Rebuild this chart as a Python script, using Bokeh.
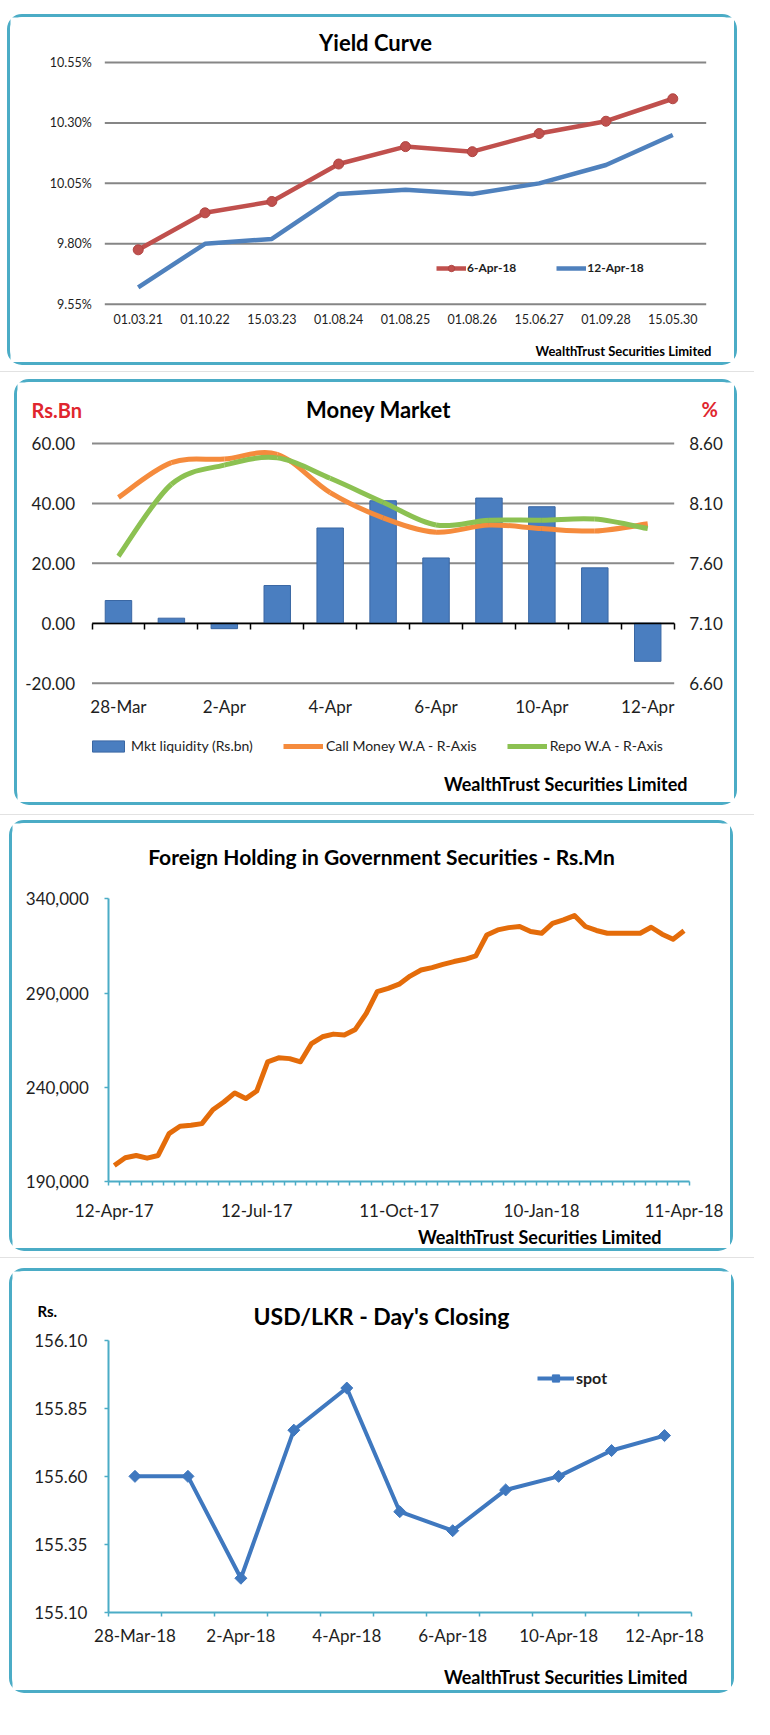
import pandas as pd
from bokeh.plotting import figure
from bokeh.models import (Range1d, LinearAxis, FixedTicker, PrintfTickFormatter,
                          NumeralTickFormatter, Label, Legend, LegendItem, Spacer)
from bokeh.layouts import column, row
from bokeh.embed import file_html
from bokeh.resources import INLINE

# ------------------------------------------------------------------ data
# Yield curve
yc_tenors = ["01.03.21", "01.10.22", "15.03.23", "01.08.24", "01.08.25",
             "01.08.26", "15.06.27", "01.09.28", "15.05.30"]
yc_6apr = [9.775, 9.928, 9.975, 10.13, 10.202, 10.181, 10.256, 10.307, 10.40]
yc_12apr = [9.62, 9.80, 9.82, 10.006, 10.024, 10.006, 10.05, 10.126, 10.25]
yc_ticks = [9.55, 9.80, 10.05, 10.30, 10.55]

# Money market
mm_dates = ["28-Mar", "29-Mar", "2-Apr", "3-Apr", "4-Apr", "5-Apr", "6-Apr",
            "9-Apr", "10-Apr", "11-Apr", "12-Apr"]
mm_liquidity = [7.6, 1.7, -1.8, 12.6, 31.8, 40.9, 21.8, 41.8, 38.9, 18.5, -12.7]
mm_call = [8.15, 8.44, 8.47, 8.51, 8.19, 7.98, 7.86, 7.92, 7.89, 7.87, 7.93]
mm_repo = [7.66, 8.26, 8.42, 8.48, 8.31, 8.11, 7.92, 7.96, 7.96, 7.97, 7.89]
mm_label_idx = [0, 2, 4, 6, 8, 10]
mm_left_ticks = [-20, 0, 20, 40, 60]
mm_right_ticks = [6.60, 7.10, 7.60, 8.10, 8.60]

# Foreign holding (weekly, Rs.Mn)
fh_dates = [d.strftime("%d-%b-%y") for d in
            pd.date_range("2017-04-12", "2018-04-11", freq="7D")]
fh_values = [198500, 202600, 203800, 202400, 203800, 215400, 219300, 219800,
             220700, 228100, 232200, 237000, 234000, 238000, 253500, 255600,
             255200, 253500, 263200, 266800, 268200, 267700, 270700, 279200,
             290700, 292500, 294700, 299000, 302200, 303500, 305200, 306700,
             307900, 309700, 320800, 323500, 324700, 325300, 322600, 321700,
             327000, 328800, 331100, 325300, 323200, 321700, 321700, 321700,
             321700, 324900, 321200, 318500, 323000]
fh_label_idx = [0, 13, 26, 39, 52]
fh_ticks = [190000, 240000, 290000, 340000]

# USD/LKR
fx_dates = ["28-Mar-18", "29-Mar-18", "2-Apr-18", "3-Apr-18", "4-Apr-18",
            "5-Apr-18", "6-Apr-18", "9-Apr-18", "10-Apr-18", "11-Apr-18",
            "12-Apr-18"]
fx_spot = [155.60, 155.60, 155.225, 155.77, 155.925, 155.47, 155.40, 155.55,
           155.60, 155.695, 155.75]
fx_label_idx = [0, 2, 4, 6, 8, 10]
fx_ticks = [155.10, 155.35, 155.60, 155.85, 156.10]

# ------------------------------------------------------------------ style
FONT = "Lato"
TEAL = "#4BACC6"
TXT = "#1e1e1e"
BORDER = {"border": "3px solid #4BACC6", "border-radius": "15px"}


class Geo:
    """Maps a panel's page-pixel layout onto its data ranges.
    canvas = (left, top, width, height) of the figure canvas on the page,
    region = (L, R, T, B) page pixels of the data area."""

    def __init__(self, canvas, region, xlim, ylim):
        self.cL, self.cT, self.cW, self.cH = canvas
        self.L, self.R, self.T, self.B = region
        self.xlim, self.ylim = xlim, ylim
        self.kx = (xlim[1] - xlim[0]) / (self.R - self.L)
        self.ky = (ylim[1] - ylim[0]) / (self.B - self.T)

    def xrange(self):
        return Range1d(self.xlim[0] - (self.L - self.cL) * self.kx,
                       self.xlim[1] + (self.cL + self.cW - self.R) * self.kx)

    def yrange(self, lim=None):
        lim = lim or self.ylim
        k = (lim[1] - lim[0]) / (self.B - self.T)
        return Range1d(lim[0] - (self.cT + self.cH - self.B) * k,
                       lim[1] + (self.T - self.cT) * k)

    def xy(self, px, py):
        return (self.xlim[0] + (px - self.L) * self.kx,
                self.ylim[0] + (self.B - py) * self.ky)

    def loc(self, px, py):
        return (px - self.cL, self.cT + self.cH - py)


def base_fig(g):
    p = figure(width=g.cW, height=g.cH, x_range=g.xrange(), y_range=g.yrange(),
               output_backend="svg", toolbar_location=None, tools="",
               min_border=0, min_border_left=0, min_border_right=0,
               min_border_top=0, min_border_bottom=0)
    p.outline_line_color = None
    p.background_fill_color = "white"
    p.border_fill_color = "white"
    p.grid.visible = False
    p.styles = BORDER
    return p


def add_text(p, g, px, py, text, size, align="center", bold=True,
             color="black"):
    x, y = g.xy(px, py)
    p.add_layout(Label(x=x, y=y, text=text, text_align=align,
                       text_baseline="middle", text_font=FONT,
                       text_font_style="bold" if bold else "normal",
                       text_font_size=size, text_color=color))


def style_axis(ax, size, line=None):
    ax.major_label_text_font = FONT
    ax.major_label_text_font_size = size
    ax.major_label_text_color = TXT
    ax.axis_line_color = line
    ax.axis_line_width = 2
    ax.major_tick_line_color = None
    ax.minor_tick_line_color = None
    ax.major_tick_out = 0
    ax.major_tick_in = 0
    ax.minor_tick_in = 0


def hgrid(p, xlim, ticks, color, width, **kw):
    p.segment(x0=[xlim[0]] * len(ticks), x1=[xlim[1]] * len(ticks),
              y0=ticks, y1=ticks, line_color=color, line_width=width, **kw)


def smooth(xs, ys):
    n = len(xs)
    out = dict(x0=[], y0=[], x1=[], y1=[], cx0=[], cy0=[], cx1=[], cy1=[])
    for i in range(n - 1):
        xm, ym = (xs[i - 1], ys[i - 1]) if i > 0 else (xs[i], ys[i])
        xp, yp = (xs[i + 2], ys[i + 2]) if i + 2 < n else (xs[i + 1], ys[i + 1])
        out["x0"].append(xs[i]); out["y0"].append(ys[i])
        out["x1"].append(xs[i + 1]); out["y1"].append(ys[i + 1])
        out["cx0"].append(xs[i] + (xs[i + 1] - xm) / 6)
        out["cy0"].append(ys[i] + (ys[i + 1] - ym) / 6)
        out["cx1"].append(xs[i + 1] - (xp - xs[i]) / 6)
        out["cy1"].append(ys[i + 1] - (yp - ys[i]) / 6)
    return out


# ================================================================ panel 1
n1 = len(yc_tenors)
x1 = list(range(n1))
xl1 = (-0.5, n1 - 0.5)
g1 = Geo((18, 25, 730, 351), (112.3, 713.7, 70, 311.7), xl1,
         (yc_ticks[0], yc_ticks[-1]))
p1 = base_fig(g1)
hgrid(p1, xl1, yc_ticks, "#868686", 2)
ya = p1.yaxis[0]
ya.fixed_location = xl1[0]
ya.bounds = (yc_ticks[0], yc_ticks[-1])
ya.ticker = FixedTicker(ticks=yc_ticks)
ya.formatter = PrintfTickFormatter(format="%.2f%%")
style_axis(ya, "12.5px")
ya.major_label_standoff = 13
xa = p1.xaxis[0]
xa.fixed_location = yc_ticks[0]
xa.bounds = xl1
xa.ticker = FixedTicker(ticks=x1)
xa.major_label_overrides = {i: t for i, t in enumerate(yc_tenors)}
style_axis(xa, "12.5px")
xa.major_label_standoff = 10

r_b = p1.line(x1, yc_12apr, line_color="#4F81BD", line_width=4.5)
r_r = p1.line(x1, yc_6apr, line_color="#C0504D", line_width=4.5)
r_rm = p1.scatter(x1, yc_6apr, marker="circle", size=10,
                  fill_color="#C0504D", line_color="#B04542")
p1.add_layout(Legend(
    items=[LegendItem(label="6-Apr-18", renderers=[r_r, r_rm]),
           LegendItem(label="12-Apr-18", renderers=[r_b])],
    location=g1.loc(444, 283.5), orientation="horizontal",
    border_line_color=None, background_fill_alpha=0, padding=0, margin=0,
    spacing=40, glyph_width=30, glyph_height=16, label_standoff=1,
    label_text_font=FONT, label_text_font_style="bold",
    label_text_font_size="12px", label_text_color=TXT))
add_text(p1, g1, 383, 50, "Yield Curve", "22px")
add_text(p1, g1, 719, 358, "WealthTrust Securities Limited", "13px",
         align="right")

# ================================================================ panel 2
n2 = len(mm_dates)
x2 = list(range(n2))
xl2 = (-0.5, n2 - 0.5)
g2 = Geo((25, 396, 723, 426), (99.5, 681.7, 457, 696.7), xl2,
         (mm_left_ticks[0], mm_left_ticks[-1]))
p2 = base_fig(g2)
p2.extra_y_ranges = {"right": g2.yrange((mm_right_ticks[0], mm_right_ticks[-1]))}
hgrid(p2, xl2, mm_left_ticks, "#8a8a8a", 2)
ya = p2.yaxis[0]
ya.fixed_location = xl2[0]
ya.bounds = (mm_left_ticks[0], mm_left_ticks[-1])
ya.ticker = FixedTicker(ticks=mm_left_ticks)
ya.formatter = PrintfTickFormatter(format="%.2f")
style_axis(ya, "17px")
ya.major_label_standoff = 17
rax = LinearAxis(y_range_name="right", fixed_location=xl2[1],
                 bounds=(mm_right_ticks[0], mm_right_ticks[-1]),
                 ticker=FixedTicker(ticks=mm_right_ticks),
                 formatter=PrintfTickFormatter(format="%.2f"))
style_axis(rax, "17px")
rax.major_label_standoff = 15
p2.add_layout(rax, "right")
xa = p2.xaxis[0]
xa.fixed_location = mm_left_ticks[0]
xa.bounds = xl2
xa.ticker = FixedTicker(ticks=mm_label_idx)
xa.major_label_overrides = {i: mm_dates[i] for i in mm_label_idx}
style_axis(xa, "17px")
xa.major_label_standoff = 13

r_bar = p2.vbar(x=x2, top=mm_liquidity, bottom=0, width=0.5,
                fill_color="#4A7EC0", line_color="#3A67A3", line_width=1)
r_call = p2.bezier(line_color="#F58B3D", line_width=5, y_range_name="right",
                   **smooth(x2, mm_call))
r_repo = p2.bezier(line_color="#8CC152", line_width=5, y_range_name="right",
                   **smooth(x2, mm_repo))
zax = LinearAxis(fixed_location=0, bounds=xl2,
                 ticker=FixedTicker(ticks=[i - 0.5 for i in range(n2 + 1)]),
                 axis_line_color="black", axis_line_width=1.5,
                 major_tick_line_color="black", major_tick_line_width=1.5,
                 major_tick_out=6, major_tick_in=0,
                 minor_tick_line_color=None, major_label_text_color=None)
p2.add_layout(zax, "below")
p2.add_layout(Legend(
    items=[LegendItem(label="Mkt liquidity (Rs.bn)", renderers=[r_bar]),
           LegendItem(label="Call Money W.A - R-Axis", renderers=[r_call]),
           LegendItem(label="Repo W.A - R-Axis", renderers=[r_repo])],
    location=g2.loc(96, 768), orientation="horizontal",
    border_line_color=None, background_fill_alpha=0, padding=0, margin=0,
    spacing=30, glyph_width=40, glyph_height=14, label_standoff=3,
    label_text_font=FONT, label_text_font_size="14px", label_text_color=TXT))
add_text(p2, g2, 39, 423, "Rs.Bn", "20px", align="left", color="#E0262E")
add_text(p2, g2, 709, 422, "%", "20px", align="left", color="#E0262E")
add_text(p2, g2, 386, 423, "Money Market", "22px")
add_text(p2, g2, 695, 797, "WealthTrust Securities Limited", "18px",
         align="right")

# ================================================================ panel 3
n3 = len(fh_values)
x3 = list(range(n3))
xl3 = (-0.5, n3 - 0.5)
g3 = Geo((20, 843, 724, 431), (116.3, 697, 918.3, 1201), xl3,
         (fh_ticks[0], fh_ticks[-1]))
p3 = base_fig(g3)
ya = p3.yaxis[0]
ya.fixed_location = xl3[0]
ya.bounds = (fh_ticks[0], fh_ticks[-1])
ya.ticker = FixedTicker(ticks=fh_ticks)
ya.formatter = NumeralTickFormatter(format="0,0")
style_axis(ya, "17px", TEAL)
ya.major_tick_line_color = TEAL
ya.major_tick_line_width = 1.5
ya.major_tick_out = 4
ya.major_label_standoff = 16
xa = p3.xaxis[0]
xa.fixed_location = fh_ticks[0]
xa.bounds = xl3
xa.ticker = FixedTicker(ticks=fh_label_idx,
                        minor_ticks=[i - 0.5 for i in range(n3 + 1)])
xa.major_label_overrides = {i: fh_dates[i] for i in fh_label_idx}
style_axis(xa, "17px", TEAL)
xa.minor_tick_line_color = TEAL
xa.minor_tick_line_width = 1.5
xa.minor_tick_out = 4
xa.major_label_standoff = 14
p3.line(x3, fh_values, line_color="#E46C0A", line_width=5, line_join="round")
add_text(p3, g3, 389, 876,
         "Foreign Holding in Government Securities - Rs.Mn", "21px")
add_text(p3, g3, 669, 1256, "WealthTrust Securities Limited", "18px",
         align="right")

# ================================================================ panel 4
n4 = len(fx_spot)
x4 = list(range(n4))
xl4 = (-0.5, n4 - 0.5)
g4 = Geo((20, 1297, 725, 425), (116, 698.5, 1366, 1637.7), xl4,
         (fx_ticks[0], fx_ticks[-1]))
p4 = base_fig(g4)
ya = p4.yaxis[0]
ya.fixed_location = xl4[0]
ya.bounds = (fx_ticks[0], fx_ticks[-1])
ya.ticker = FixedTicker(ticks=fx_ticks)
ya.formatter = PrintfTickFormatter(format="%.2f")
style_axis(ya, "17px", TEAL)
ya.major_tick_line_color = TEAL
ya.major_tick_line_width = 1.5
ya.major_tick_out = 4
ya.major_label_standoff = 17
xa = p4.xaxis[0]
xa.fixed_location = fx_ticks[0]
xa.bounds = xl4
xa.ticker = FixedTicker(ticks=fx_label_idx,
                        minor_ticks=[i - 0.5 for i in range(n4 + 1)])
xa.major_label_overrides = {i: fx_dates[i] for i in fx_label_idx}
style_axis(xa, "17px", TEAL)
xa.minor_tick_line_color = TEAL
xa.minor_tick_line_width = 1.5
xa.minor_tick_out = 4
xa.major_label_standoff = 9
r_fx = p4.line(x4, fx_spot, line_color="#3F78BF", line_width=4,
               line_join="round")
r_fxm = p4.scatter(x4, fx_spot, marker="square", angle=0.785398, size=8.5,
                   fill_color="#3F78BF", line_color="#3F78BF")
p4.add_layout(Legend(
    items=[LegendItem(label="spot", renderers=[r_fx, r_fxm])],
    location=g4.loc(545, 1413), orientation="horizontal",
    border_line_color=None, background_fill_alpha=0, padding=0, margin=0,
    glyph_width=37, glyph_height=18, label_standoff=2,
    label_text_font=FONT, label_text_font_style="bold",
    label_text_font_size="16px", label_text_color=TXT))
add_text(p4, g4, 45, 1336, "Rs.", "15px", align="left")
add_text(p4, g4, 389, 1341, "USD/LKR - Day's Closing", "23px")
add_text(p4, g4, 695, 1702, "WealthTrust Securities Limited", "18px",
         align="right")


# ------------------------------------------------------------------ page
def gap(h):
    return Spacer(width=10, height=h)


def rule():
    return Spacer(width=754, height=1, styles={"background-color": "#e2e2e2"})


def indent(w, p):
    return row(Spacer(width=w, height=10), p, spacing=0)


page = column(gap(14), indent(7, p1),
              gap(6), rule(), gap(7), indent(14, p2),
              gap(9), rule(), gap(5), indent(9, p3),
              gap(6), rule(), gap(10), indent(9, p4),
              spacing=0)
open("out.html", "w").write(file_html(page, INLINE))
